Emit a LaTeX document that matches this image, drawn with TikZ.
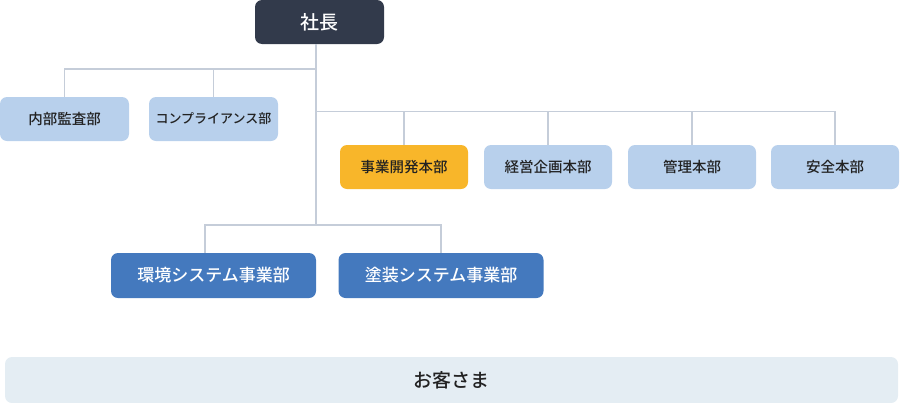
\documentclass[tikz,border=0pt]{standalone}
\usepackage{fontspec}
\setmainfont{Noto Sans CJK JP}[UprightFont=* Medium]
\usepackage{tikz}

\definecolor{navy}{HTML}{323A4B}
\definecolor{paleblue}{HTML}{B8D0EC}
\definecolor{gold}{HTML}{F8B62A}
\definecolor{midblue}{HTML}{4479BE}
\definecolor{mist}{HTML}{E4EDF3}
\definecolor{wire}{HTML}{C5CDD9}
\definecolor{ink}{HTML}{222222}

\tikzset{
	box/.style={rounded corners=7pt, inner sep=0pt, minimum width=128pt, minimum height=44pt, text=ink, font=\fontsize{14.5}{16}\selectfont},
	dept/.style={box, fill=paleblue},
	head/.style={box, fill=navy, text=white, minimum width=129pt, font=\fontsize{19}{22}\selectfont},
	biz/.style={box, fill=midblue, text=white, minimum width=205pt, minimum height=45pt, font=\fontsize{17}{20}\selectfont},
	link/.style={draw=wire, line width=1.2pt}
}

\begin{document}
\begin{tikzpicture}[x=1pt,y=-1pt]
	% Fix the page size to the reference
	\useasboundingbox (0,0) rectangle (900,402);
	
	% President
	\node[head] (shacho) at (319.5,22) {社長};
	
	% Staff departments
	\node[dept, minimum width=129pt] (naibu) at (64.5,119) {内部監査部};
	\node[dept, minimum width=129pt, font=\fontsize{13}{15}\selectfont] (compl) at (213.5,119) {コンプライアンス部};
	
	% Headquarters row
	\node[box, fill=gold] (jigyo) at (404,167) {事業開発本部};
	\node[dept] (keiei) at (548,167) {経営企画本部};
	\node[dept] (kanri) at (692,167) {管理本部};
	\node[dept] (anzen) at (835,167) {安全本部};
	
	% Business divisions
	\node[biz] (kankyo) at (213.5,275.5) {環境システム事業部};
	\node[biz] (tosou) at (441,275.5) {塗装システム事業部};
	
	% Customers
	\node[box, fill=mist, minimum width=893pt, minimum height=46pt, font=\fontsize{19}{22}\selectfont] (okyaku) at (451.5,380) {お客さま};
	
	% Trunk line from the president
	\coordinate (trunk) at (316,225);
	\draw[link] (shacho.south -| trunk) -- (trunk);
	
	% Branch to staff departments
	\coordinate (staff) at (316,69);
	\foreach \n in {naibu,compl}
	\draw[link] (staff) -| (\n.north);
	
	% Branch to headquarters
	\coordinate (hq) at (316,111.5);
	\foreach \n in {jigyo,keiei,kanri,anzen}
	\draw[link] (hq) -| (\n.north);
	
	% Branch to business divisions
	\draw[link] (trunk) -| ([xshift=-8.5pt]kankyo.north);
	\draw[link] (trunk) -| (tosou.north);
\end{tikzpicture}
\end{document}
